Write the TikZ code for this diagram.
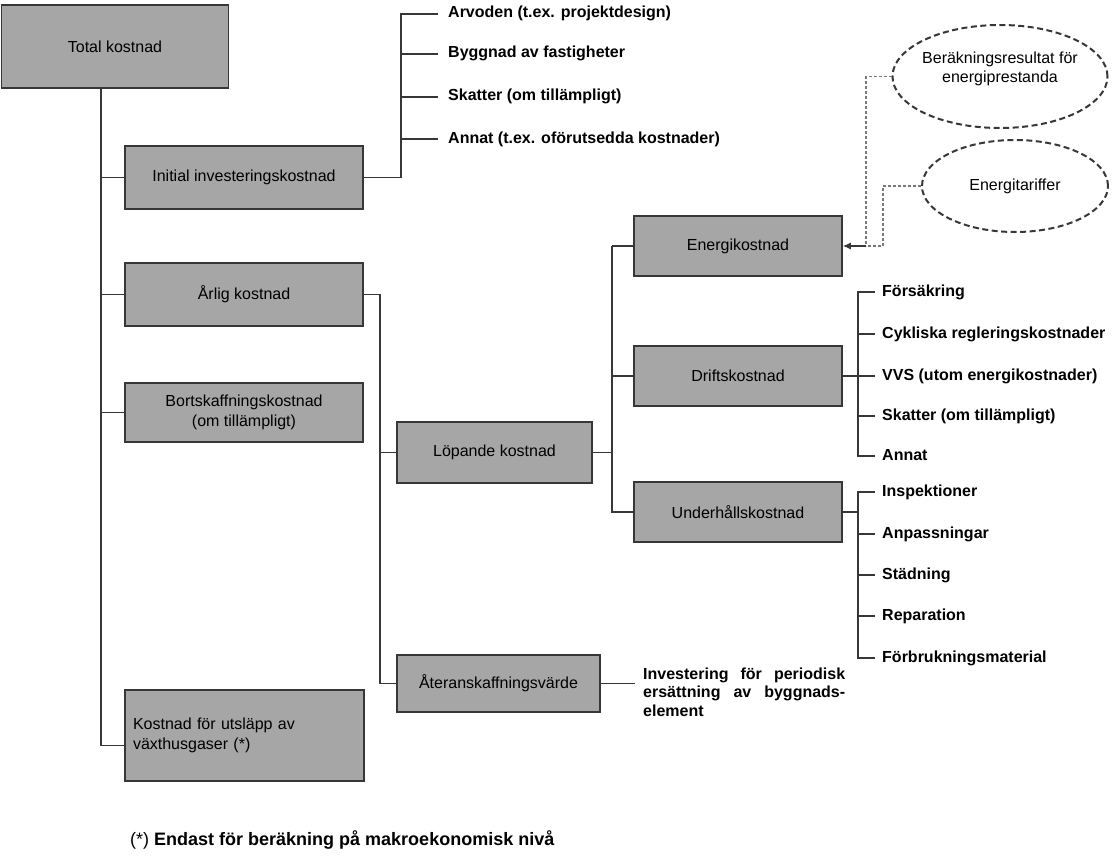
\documentclass[tikz,border=0pt]{standalone}
\usepackage{fontspec}
\setmainfont{Liberation Sans}
\usetikzlibrary{shapes.geometric,arrows.meta}
\definecolor{boxgray}{RGB}{166,166,166}
\definecolor{linegray}{RGB}{55,55,55}
\definecolor{dashgray}{RGB}{120,120,120}
\begin{document}
\begin{tikzpicture}[x=1pt,y=-1pt,
  box/.style={draw=linegray, line width=1.5pt, fill=boxgray, inner sep=0pt,
    font=\fontsize{16}{20}\selectfont, align=center},
  conn/.style={draw=linegray, line width=1.2pt},
  item/.style={anchor=west, font=\bfseries\fontsize{16}{19}\selectfont,
    inner xsep=7pt, inner ysep=0pt, text height=11.5pt, text depth=3.5pt},
  ell/.style={ellipse, draw=linegray, line width=2pt, dash pattern=on 6pt off 3.5pt,
    inner sep=0pt, align=center, font=\fontsize{16}{19}\selectfont},
  dconn/.style={draw=dashgray, line width=1.1pt, dash pattern=on 3pt off 2pt},
  etext/.style={align=center, font=\fontsize{16}{19}\selectfont, inner sep=0pt}
]
\useasboundingbox (0,0) rectangle (1120,867);

% boxes
\node[box, minimum width=227pt, minimum height=83pt] (Tot) at (115,46.5) {Total kostnad};
\node[box, minimum width=238pt, minimum height=63pt] (Init) at (244,177.5) {Initial investeringskostnad};
\node[box, minimum width=238pt, minimum height=63pt] (Arl) at (244,294.5) {Årlig kostnad};
\node[box, minimum width=238pt, minimum height=59pt] (Bort) at (244,412.5) {Bortskaffningskostnad\\(om tillämpligt)};
\node[box, minimum height=91pt, text width=223pt, inner xsep=8pt, align=left] (Kost) at (244.5,735.5) {Kostnad för utsläpp av\\växthusgaser (*)};
\node[box, minimum width=195pt, minimum height=61pt] (Lop) at (494.5,452.5) {Löpande kostnad};
\node[box, minimum width=203pt, minimum height=57pt] (Ater) at (498.5,683.5) {Återanskaffningsvärde};
\node[box, minimum width=208pt, minimum height=60pt] (Ener) at (738,246) {Energikostnad};
\node[box, minimum width=208pt, minimum height=60pt] (Drift) at (738,376) {Driftskostnad};
\node[box, minimum width=208pt, minimum height=60pt] (Underh) at (738,512) {Underhållskostnad};

% ellipses
\node[ell, minimum width=215pt, minimum height=103pt] (E1) at (1000,76.5) {};
\node[etext] (E1t) at (1000,69) {Beräkningsresultat för\\energiprestanda};
\node[ell, minimum width=186pt, minimum height=92pt] (E2) at (1015,186) {Energitariffer};

% branch coordinates
\coordinate (tr) at (101,0);
\coordinate (b1) at (401,0);
\coordinate (b2) at (380,0);
\coordinate (b3) at (612,0);
\coordinate (b4) at (858,0);
\coordinate (j1) at (866,0);
\coordinate (j2) at (883,0);

% items of initial cost
\node[item, inner xsep=10pt] (I1) at (438,14) {Arvoden (t.ex. projektdesign)};
\node[item, inner xsep=10pt] (I2) at (438,54) {Byggnad av fastigheter};
\node[item, inner xsep=10pt] (I3) at (438,97) {Skatter (om tillämpligt)};
\node[item, inner xsep=10pt] (I4) at (438,139) {Annat (t.ex. oförutsedda kostnader)};

% items of operating cost
\node[item] (D1) at (875,292) {Försäkring};
\node[item] (D2) at (875,334) {Cykliska regleringskostnader};
\node[item] (D3) at (875,376) {VVS (utom energikostnader)};
\node[item] (D4) at (875,416) {Skatter (om tillämpligt)};
\node[item] (D5) at (875,456) {Annat};

% items of maintenance cost
\node[item] (U1) at (875,492) {Inspektioner};
\node[item] (U2) at (875,534) {Anpassningar};
\node[item] (U3) at (875,575) {Städning};
\node[item] (U4) at (875,616) {Reparation};
\node[item] (U5) at (875,658) {Förbrukningsmaterial};

% replacement text
\node[anchor=west, inner xsep=8pt, inner ysep=0pt, align=left,
  font=\bfseries\fontsize{16}{18.5}\selectfont] (Inv) at (635,692)
  {\makebox[202pt][s]{Investering för periodisk}\\\makebox[202pt][s]{ersättning av byggnads-}\\element};

% footnote
\node[anchor=west, inner sep=0pt, font=\fontsize{18}{21}\selectfont] (Fn) at (130,840)
  {(*) \textbf{Endast för beräkning på makroekonomisk nivå}};

% trunk
\draw[conn] (Tot.south -| tr) -- ([yshift=-10pt]Kost.west -| tr) -- ([yshift=-10pt]Kost.west);
\draw[conn] (Init.west -| tr) -- (Init.west);
\draw[conn] (Arl.west -| tr) -- (Arl.west);
\draw[conn] (Bort.west -| tr) -- (Bort.west);

% initial cost branch
\draw[conn] (Init.east) -- (Init.east -| b1) -- (I1.west -| b1) -- (I1.west);
\draw[conn] (I2.west -| b1) -- (I2.west);
\draw[conn] (I3.west -| b1) -- (I3.west);
\draw[conn] (I4.west -| b1) -- (I4.west);

% annual cost branch
\draw[conn] (Arl.east) -- (Arl.east -| b2) -- (Ater.west -| b2) -- (Ater.west);
\draw[conn] (Lop.west -| b2) -- (Lop.west);

% running cost branch
\draw[conn] (Lop.east) -- (Lop.east -| b3);
\draw[conn] (Ener.west -| b3) -- (Underh.west -| b3) -- (Underh.west);
\draw[conn] (Ener.west -| b3) -- (Ener.west);
\draw[conn] (Drift.west -| b3) -- (Drift.west);

% operating items
\draw[conn] (Drift.east) -- (Drift.east -| b4);
\draw[conn] (D1.west) -- (D1.west -| b4) -- (D5.west -| b4) -- (D5.west);
\draw[conn] (D2.west -| b4) -- (D2.west);
\draw[conn] (D3.west -| b4) -- (D3.west);
\draw[conn] (D4.west -| b4) -- (D4.west);

% maintenance items
\draw[conn] (Underh.east) -- (Underh.east -| b4);
\draw[conn] (U1.west) -- (U1.west -| b4) -- (U5.west -| b4) -- (U5.west);
\draw[conn] (U2.west -| b4) -- (U2.west);
\draw[conn] (U3.west -| b4) -- (U3.west);
\draw[conn] (U4.west -| b4) -- (U4.west);

% replacement
\draw[conn] (Ater.east) -- (Ater.east -| Inv.west);

% energy inputs
\draw[dconn] (E1.west) -| (j1 |- Ener.east);
\draw[dconn] (E2.west) -| (j2 |- Ener.east) -- (j1 |- Ener.east);
\draw[conn, -{Latex[length=8pt,width=7pt]}] (j1 |- Ener.east) -- (Ener.east);
\end{tikzpicture}
\end{document}
